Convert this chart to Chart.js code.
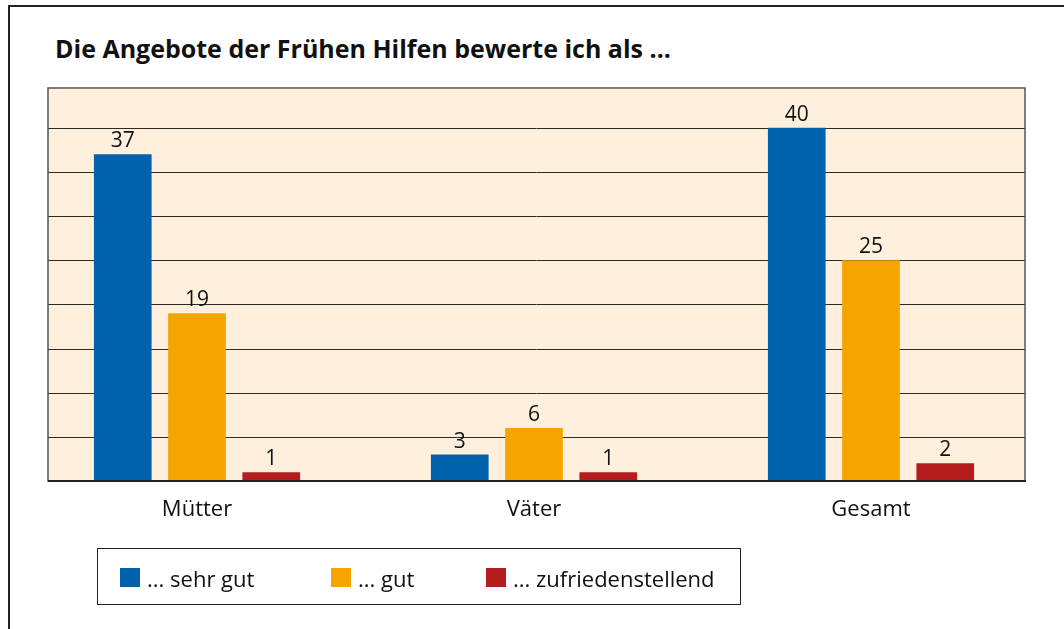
<!DOCTYPE html>
<html><head><meta charset="utf-8">
<script src="https://cdn.jsdelivr.net/npm/chart.js@4"></script>
<style>
html,body{margin:0;padding:0;background:#fff;width:1064px;height:629px;overflow:hidden;font-family:"Open Sans",sans-serif;}
#frame{position:absolute;left:8px;top:5px;width:1200px;height:800px;border-left:2.5px solid #222;border-top:2.5px solid #222;}
#title{position:absolute;left:55px;top:31px;font-size:25px;font-weight:bold;color:#111;white-space:nowrap;}
#wrap{position:absolute;left:0;top:0;width:1064px;height:629px;}
#legend{position:absolute;left:97px;top:548px;width:642px;height:55px;border:1.5px solid #222;box-sizing:content-box;}
.item{position:absolute;top:0;height:57px;display:flex;align-items:center;font-size:22px;color:#111;white-space:nowrap;}
.sw{width:20px;height:19px;margin-right:7px;display:inline-block;}
</style></head>
<body>
<div id="frame"></div>
<div id="title">Die Angebote der Frühen Hilfen bewerte ich als ...</div>
<div id="wrap"><canvas id="c" width="1064" height="629"></canvas></div>
<div id="legend"></div>
<script>
const categories = ["Mütter", "Väter", "Gesamt"];
const seriesNames = ["... sehr gut", "... gut", "... zufriedenstellend"];
const sehrGut = [37, 3, 40];
const gut = [19, 6, 25];
const zufrieden = [1, 1, 2];
const colors = ["#0061ad", "#f5a500", "#b51c1e"];
const legendX = [22, 233, 388];

const plotBox = {left:48, right:1025};

const bgPlugin = {
  id:'bg',
  beforeDatasetsDraw(chart){
    const ctx = chart.ctx, y = chart.scales.y, a = chart.chartArea;
    const top = a.top, bot = a.bottom;
    ctx.save();
    ctx.fillStyle = '#fef0dd';
    ctx.fillRect(plotBox.left, top, plotBox.right-plotBox.left, bot-top);
    ctx.strokeStyle = '#2a2a2a'; ctx.lineWidth = 1;
    for (let v = 5; v <= 40; v += 5) {
      const py = Math.round(y.getPixelForValue(v)) + 0.5;
      ctx.beginPath(); ctx.moveTo(plotBox.left, py); ctx.lineTo(plotBox.right, py); ctx.stroke();
    }
    ctx.restore();
  },
  afterDatasetsDraw(chart){
    const ctx = chart.ctx, a = chart.chartArea;
    ctx.save();
    ctx.strokeStyle = '#555'; ctx.lineWidth = 1.5;
    ctx.strokeRect(plotBox.left, a.top, plotBox.right-plotBox.left, a.bottom-a.top);
    ctx.strokeStyle = '#222'; ctx.lineWidth = 2;
    ctx.beginPath(); ctx.moveTo(plotBox.left, a.bottom); ctx.lineTo(plotBox.right+1, a.bottom); ctx.stroke();
    ctx.fillStyle = '#111';
    ctx.font = '21px "Open Sans"';
    ctx.textAlign = 'center'; ctx.textBaseline = 'alphabetic';
    chart.data.datasets.forEach((ds, di) => {
      chart.getDatasetMeta(di).data.forEach((bar, i) => {
        ctx.fillText(String(ds.data[i]), bar.x, bar.y - 7);
      });
    });
    ctx.restore();
  }
};

new Chart(document.getElementById('c'), {
  type:'bar',
  data:{
    labels:categories,
    datasets:[
      {label:seriesNames[0], data:sehrGut, backgroundColor:colors[0]},
      {label:seriesNames[1], data:gut, backgroundColor:colors[1]},
      {label:seriesNames[2], data:zufrieden, backgroundColor:colors[2]}
    ]
  },
  options:{
    responsive:false, animation:false,
    categoryPercentage:0.661, barPercentage:0.777,
    layout:{padding:{left:28.5, right:24.5, top:88, bottom:108}},
    plugins:{legend:{display:false}, title:{display:false}, tooltip:{enabled:false}},
    scales:{
      x:{grid:{display:false}, border:{display:false},
         ticks:{color:'#111', font:{family:'"Open Sans"', size:22}, padding:8},
         afterFit(s){ s.height = 40; }},
      y:{display:false, min:0, max:44.5}
    }
  },
  plugins:[bgPlugin]
});

const lg = document.getElementById('legend');
seriesNames.forEach((n, i) => {
  const d = document.createElement('div');
  d.className = 'item'; d.style.left = legendX[i] + 'px';
  d.innerHTML = '<span class="sw" style="background:' + colors[i] + '"></span>' + n;
  lg.appendChild(d);
});
</script>
</body></html>
